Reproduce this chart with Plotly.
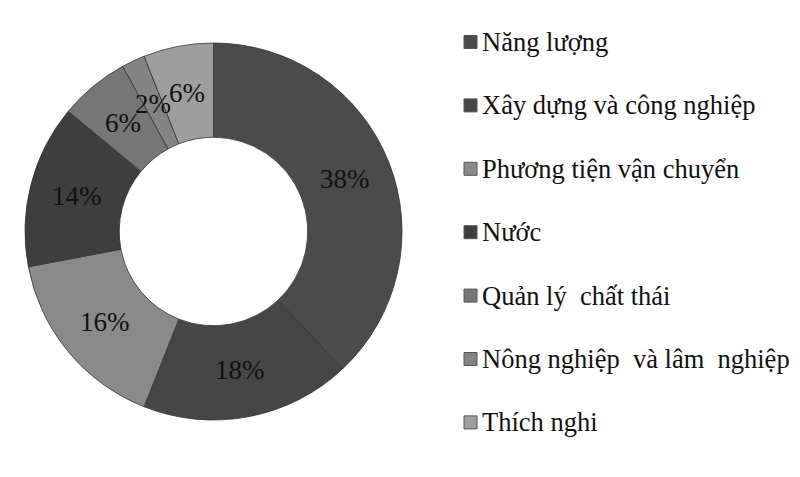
import math
import plotly.graph_objects as go

# slices, clockwise from 12 o'clock
sectors = ["Năng lượng", "Xây dựng và công nghiệp", "Phương tiện vận chuyển",
           "Nước", "Quản lý  chất thái", "Nông nghiệp  và lâm  nghiệp", "Thích nghi"]
shares = [38, 18, 16, 14, 6, 2, 6]
grays = ["#4b4b4b", "#464646", "#8a8a8a", "#3e3e3e", "#767676", "#848484", "#9e9e9e"]

W, H = 800, 477
off = 8  # page body margin, everything is drawn shifted by it
serif = "Liberation Serif, Times New Roman, serif"


def px(x):
    return (x - off) / W


def py(y):
    return 1 - (y - off) / H


# donut geometry in screen pixels
cx, cy, r_out, hole = 213.5, 231.5, 188.5, 0.5

fig = go.Figure(go.Pie(
    labels=sectors,
    values=shares,
    sort=False,
    direction="clockwise",
    rotation=0,
    hole=hole,
    marker=dict(colors=grays, line=dict(color="#333333", width=0.8)),
    textinfo="none",
    domain=dict(x=[px(cx - r_out), px(cx + r_out)], y=[py(cy + r_out), py(cy - r_out)]),
    showlegend=False,
    hoverinfo="label+percent",
))

# percentage labels at the middle of the ring
r_mid = r_out * (1 + hole) / 2
total = sum(shares)
acc = 0
for v in shares:
    ang = 2 * math.pi * (acc + v / 2) / total
    acc += v
    fig.add_annotation(x=px(cx + r_mid * math.sin(ang)), y=py(cy - r_mid * math.cos(ang)),
                       xref="paper", yref="paper", text=f"{v}%", showarrow=False,
                       xanchor="center", yanchor="middle",
                       font=dict(family=serif, size=27, color="#111111"))

# hand-made legend so the rows can be spaced like the original
row0, step = 42, 63.4
for i, (name, col) in enumerate(zip(sectors, grays)):
    yc = row0 + i * step
    fig.add_shape(type="rect", xref="paper", yref="paper",
                  x0=px(464), x1=px(477), y0=py(yc + 6.5), y1=py(yc - 6.5),
                  fillcolor=col, line=dict(color="#555555", width=1))
    fig.add_annotation(x=px(480), y=py(yc), xref="paper", yref="paper",
                       text=name, showarrow=False, xanchor="left", yanchor="middle",
                       font=dict(family=serif, size=26.5, color="#111111"))

fig.update_layout(
    width=W, height=H,
    margin=dict(l=0, r=0, t=0, b=0),
    paper_bgcolor="white",
    plot_bgcolor="white",
)

fig.write_html("out.html")
